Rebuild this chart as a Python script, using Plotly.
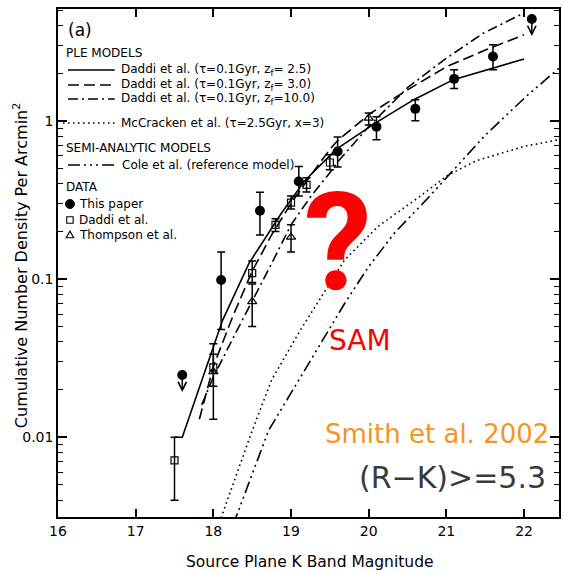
import numpy as np
import plotly.graph_objects as go

# ---------------- data ----------------
ple25_x = [17.5, 17.6, 17.84, 18.12, 18.46, 18.88, 19.18, 19.58, 20.09, 20.58, 21.09, 21.58, 22.0]
ple25_y = [0.01, 0.01, 0.022, 0.055, 0.126, 0.262, 0.42, 0.66, 0.97, 1.36, 1.82, 2.15, 2.46]

ple30_x = [17.82, 17.9, 18.0, 18.25, 18.5, 18.75, 19.0, 19.25, 19.5, 19.6, 20.03, 20.5, 21.01, 21.51, 22.0]
ple30_y = [0.013, 0.018, 0.028, 0.058, 0.112, 0.19, 0.30, 0.45, 0.66, 0.75, 1.12, 1.57, 2.21, 2.81, 3.5]

ple10_x = [17.85, 18.0, 18.25, 18.5, 18.75, 19.0, 19.25, 19.5, 19.6, 20.0, 20.5, 20.97, 21.48, 22.0]
ple10_y = [0.016, 0.024, 0.042, 0.072, 0.125, 0.22, 0.33, 0.47, 0.55, 0.92, 1.62, 2.43, 3.59, 4.8]

mcc_x = [18.05, 18.1, 18.5, 18.75, 19.12, 19.39, 19.69, 20.12, 20.65, 21.01, 21.39, 21.99, 22.45]
mcc_y = [0.0027, 0.0031, 0.011, 0.023, 0.0475, 0.077, 0.132, 0.215, 0.33, 0.45, 0.56, 0.687, 0.76]

cole_x = [18.25, 18.29, 18.71, 19.26, 19.48, 19.69, 19.99, 20.33, 20.75, 21.1, 21.5, 22.03, 22.45]
cole_y = [0.0028, 0.0031, 0.011, 0.031, 0.0475, 0.07, 0.118, 0.195, 0.32, 0.49, 0.81, 1.43, 2.15]

paper_x = [18.1, 18.6, 19.1, 19.6, 20.1, 20.6, 21.1, 21.6]
paper_y = [0.0986, 0.27, 0.413, 0.64, 0.916, 1.19, 1.84, 2.55]
paper_lo = [0.048, 0.19, 0.335, 0.51, 0.76, 1.0, 1.6, 2.1]
paper_hi = [0.148, 0.353, 0.514, 0.79, 1.06, 1.36, 2.1, 3.03]
paper_lim_x = [17.6, 22.1]
paper_lim_y = [0.0247, 4.4]

daddi_x = [17.5, 18.0, 18.5, 18.8, 19.0, 19.2, 19.5]
daddi_y = [0.00714, 0.0276, 0.109, 0.22, 0.304, 0.394, 0.545]
daddi_lo = [0.004, 0.021, 0.095, 0.20, 0.277, 0.355, 0.49]
daddi_hi = [0.01, 0.0335, 0.13, 0.24, 0.335, 0.436, 0.61]

thom_x = [18.0, 18.5, 19.0, 20.0]
thom_y = [0.026, 0.072, 0.184, 1.04]
thom_lo = [0.013, 0.05, 0.148, 0.94]
thom_hi = [0.039, 0.093, 0.22, 1.12]

x_ticks = [16, 17, 18, 19, 20, 21, 22]
y_major = [0.01, 0.1, 1]
y_major_text = ["0.01", "0.1", "1"]

# ---------------- styles ----------------
W, H = 563, 570
ML, MR, MT, MB = 58, 2, 9, 53
FONT = "DejaVu Sans"
LW = 1.6
DASH = {
    "solid": "solid",
    "dash": "11px,5px",
    "dashdot": "10px,4px,2px,4px",
    "dot": "1.6px,3.4px",
    "dashdotdot": "12px,4px,2px,4px,2px,4px,2px,4px",
}
Y_RANGE = [np.log10(0.00313), np.log10(5.09)]
y_minor = [m * 10.0 ** e for e in range(-3, 1) for m in range(2, 10)]


def pxx(xp):
    return (xp - ML) / (W - ML - MR)


def pxy(yp):
    return (H - MB - yp) / (H - MT - MB)


def errs(v, lo, hi):
    v, lo, hi = map(np.asarray, (v, lo, hi))
    return (hi - v).tolist(), (v - lo).tolist()


fig = go.Figure()

curves = [
    (ple25_x, ple25_y, "solid", "Daddi et al. (τ=0.1Gyr, z<sub>f</sub>= 2.5)"),
    (ple30_x, ple30_y, "dash", "Daddi et al. (τ=0.1Gyr, z<sub>f</sub>= 3.0)"),
    (ple10_x, ple10_y, "dashdot", "Daddi et al. (τ=0.1Gyr, z<sub>f</sub>=10.0)"),
    (mcc_x, mcc_y, "dot", "McCracken et al. (τ=2.5Gyr, x=3)"),
    (cole_x, cole_y, "dashdotdot", "Cole et al. (reference model)"),
]
for cx, cy, d, name in curves:
    fig.add_trace(go.Scatter(x=cx, y=cy, mode="lines", name=name, showlegend=False,
                             line=dict(color="black", width=LW, dash=DASH[d])))

ebar = dict(type="data", symmetric=False, color="black", thickness=1.5, width=4)

p_plus, p_minus = errs(paper_y, paper_lo, paper_hi)
fig.add_trace(go.Scatter(x=paper_x, y=paper_y, mode="markers", name="This paper", showlegend=False,
                         marker=dict(symbol="circle", size=10, color="black"),
                         error_y=dict(array=p_plus, arrayminus=p_minus, **ebar)))
fig.add_trace(go.Scatter(x=paper_lim_x, y=paper_lim_y, mode="markers", name="This paper (limits)",
                         showlegend=False, marker=dict(symbol="circle", size=10, color="black")))

d_plus, d_minus = errs(daddi_y, daddi_lo, daddi_hi)
fig.add_trace(go.Scatter(x=daddi_x, y=daddi_y, mode="markers", name="Daddi et al.", showlegend=False,
                         marker=dict(symbol="square-open", size=7, color="black", line=dict(width=1.2)),
                         error_y=dict(array=d_plus, arrayminus=d_minus, **ebar)))

t_plus, t_minus = errs(thom_y, thom_lo, thom_hi)
fig.add_trace(go.Scatter(x=thom_x, y=thom_y, mode="markers", name="Thompson et al.", showlegend=False,
                         marker=dict(symbol="triangle-up-open", size=8, color="black", line=dict(width=1.2)),
                         error_y=dict(array=t_plus, arrayminus=t_minus, **ebar)))

annotations = []
for lx, ly in zip(paper_lim_x, paper_lim_y):
    annotations.append(dict(x=lx, y=np.log10(ly), xref="x", yref="y", text="", showarrow=True,
                            ax=0, ay=-17, yshift=-17, arrowhead=5, arrowsize=1.1,
                            arrowwidth=1.5, arrowcolor="black"))

shapes = []
LEG = 12
txt = lambda x, y, s, size=LEG, **kw: annotations.append(dict(
    x=pxx(x), y=pxy(y), xref="paper", yref="paper", text=s, showarrow=False,
    xanchor="left", yanchor="middle", font=dict(family=FONT, size=size, color="black"), **kw))

txt(66, 30, "(a)", size=17)
txt(64, 53, "PLE MODELS")
rows = [(70, 0, 68), (85, 1, 68), (99, 2, 68), (123, 3, 63)]
for yy, i, x0 in rows:
    shapes.append(dict(type="line", xref="paper", yref="paper", x0=pxx(x0), x1=pxx(115),
                       y0=pxy(yy), y1=pxy(yy), line=dict(color="black", width=LW, dash=DASH[curves[i][2]])))
    txt(119, yy, curves[i][3])
txt(64, 148, "SEMI-ANALYTIC MODELS")
shapes.append(dict(type="line", xref="paper", yref="paper", x0=pxx(68), x1=pxx(117),
                   y0=pxy(165), y1=pxy(165), line=dict(color="black", width=LW, dash=DASH["dashdotdot"])))
txt(120, 165, curves[4][3])
txt(64, 187, "DATA")
shapes.append(dict(type="circle", xref="paper", yref="paper", xsizemode="pixel", ysizemode="pixel",
                   xanchor=pxx(70), yanchor=pxy(204), x0=-4.5, x1=4.5, y0=-4.5, y1=4.5,
                   fillcolor="black", line=dict(color="black", width=1)))
txt(77, 204, "This paper")
shapes.append(dict(type="rect", xref="paper", yref="paper", xsizemode="pixel", ysizemode="pixel",
                   xanchor=pxx(70), yanchor=pxy(220), x0=-3.2, x1=3.2, y0=-3.2, y1=3.2,
                   line=dict(color="black", width=1.1)))
txt(77, 220, "Daddi et al.")
shapes.append(dict(type="path", xref="paper", yref="paper", xsizemode="pixel", ysizemode="pixel",
                   xanchor=pxx(70), yanchor=pxy(235), path="M -3.8,-2.8 L 3.8,-2.8 L 0,3.8 Z",
                   line=dict(color="black", width=1.1)))
txt(77, 235, "Thompson et al.")

annotations.append(dict(x=pxx(339), y=pxy(243), xref="paper", yref="paper", text="<b>?</b>",
                        showarrow=False, xanchor="center", yanchor="middle",
                        font=dict(family="Roboto", size=136, color="#ff0000")))
annotations.append(dict(x=pxx(361), y=pxy(340), xref="paper", yref="paper", text="SAM",
                        showarrow=False, xanchor="center", yanchor="middle",
                        font=dict(family=FONT, size=28, color="#ff0000")))
annotations.append(dict(x=pxx(553), y=pxy(434), xref="paper", yref="paper", text="Smith et al. 2002",
                        showarrow=False, xanchor="right", yanchor="middle",
                        font=dict(family=FONT, size=26, color="#f7941d")))
annotations.append(dict(x=pxx(550), y=pxy(477), xref="paper", yref="paper", text="(R−K)>=5.3",
                        showarrow=False, xanchor="right", yanchor="middle",
                        font=dict(family=FONT, size=30, color="#3a3a3a")))

annotations.append(dict(x=pxx(311), y=pxy(562), xref="paper", yref="paper",
                        text="Source Plane K Band Magnitude", showarrow=False,
                        xanchor="center", yanchor="middle",
                        font=dict(family=FONT, size=15.5, color="black")))
annotations.append(dict(x=pxx(20), y=pxy(265), xref="paper", yref="paper",
                        text="Cumulative Number Density Per Arcmin<sup>2</sup>", showarrow=False,
                        xanchor="center", yanchor="middle", textangle=-90,
                        font=dict(family=FONT, size=16, color="black")))

fig.update_layout(
    width=W, height=H,
    margin=dict(l=ML, r=MR, t=MT, b=MB, pad=0),
    paper_bgcolor="white", plot_bgcolor="white",
    font=dict(family=FONT, size=14, color="black"),
    showlegend=False,
    shapes=shapes, annotations=annotations,
    xaxis=dict(range=[16, 22.45], tickmode="array", tickvals=x_ticks,
               ticktext=[str(v) for v in x_ticks],
               ticks="inside", ticklen=8, tickwidth=1.5, tickcolor="black",
               showline=True, linewidth=1.5, linecolor="black", mirror="ticks",
               showgrid=False, zeroline=False, tickfont=dict(size=14)),
    yaxis=dict(type="log", range=Y_RANGE,
               tickmode="array", tickvals=y_major, ticktext=y_major_text,
               ticks="inside", ticklen=9, tickwidth=1.5, tickcolor="black",
               minor=dict(tickmode="array", tickvals=y_minor, ticks="inside",
                          ticklen=5, tickwidth=1.4, tickcolor="black", showgrid=False),
               showline=True, linewidth=1.5, linecolor="black", mirror="ticks",
               showgrid=False, zeroline=False, tickfont=dict(size=14)),
)

fig.write_html("out.html")
